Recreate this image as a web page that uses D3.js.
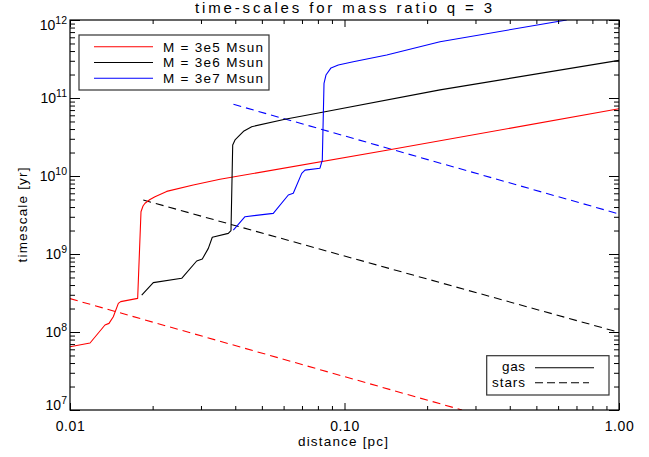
<!DOCTYPE html>
<html>
<head>
<meta charset="utf-8">
<script src="https://cdn.jsdelivr.net/npm/d3@7"></script>
<style>
  body { margin: 0; background: #fff; }
  text { font-family: "Liberation Sans", Arial, sans-serif; fill: #000; }
</style>
</head>
<body>
<div id="chart"></div>
<script>
// values: distance [pc] and timescale [yr]
var gasDist3e5 = [0.0100, 0.01183, 0.01341, 0.01387, 0.01438, 0.01500, 0.01530, 0.01764, 0.01814, 0.01845, 0.01876, 0.01956, 0.02040, 0.02250, 0.02812, 0.03519, 0.1443, 1.0];
var gasTime3e5 = [6.48e7, 7.23e7, 1.23e8, 1.29e8, 1.57e8, 2.33e8, 2.45e8, 2.70e8, 3.48e9, 4.12e9, 4.47e9, 5.0e9, 5.43e9, 6.35e9, 7.67e9, 9.07e9, 2.15e10, 7.29e10];

var gasDist3e6 = [0.01825, 0.02011, 0.02552, 0.02894, 0.03034, 0.03191, 0.03299, 0.03773, 0.03859, 0.03915, 0.03992, 0.04102, 0.04304, 0.04591, 0.06070, 0.08492, 0.2228, 1.0];
var gasTime3e6 = [2.98e8, 4.29e8, 4.88e8, 8.13e8, 8.63e8, 1.18e9, 1.64e9, 1.84e9, 2.0e9, 2.50e10, 2.90e10, 3.19e10, 3.78e10, 4.29e10, 5.33e10, 6.67e10, 1.27e11, 3.04e11];

var gasDist3e7 = [0.03935, 0.04341, 0.05502, 0.06242, 0.06507, 0.06985, 0.07180, 0.08140, 0.08301, 0.08421, 0.0856, 0.0893, 0.09493, 0.1076, 0.1425, 0.2228, 0.645];
var gasTime3e7 = [2.03e9, 3.01e9, 3.32e9, 5.71e9, 6.0e9, 1.08e10, 1.19e10, 1.26e10, 1.60e10, 1.54e11, 1.97e11, 2.43e11, 2.65e11, 2.92e11, 3.56e11, 5.27e11, 1.0e12];

var starDist3e5 = [0.01, 0.268];
var starTime3e5 = [2.68e8, 1.0e7];
var starDist3e6 = [0.01849, 1.0];
var starTime3e6 = [4.92e9, 9.9e7];
var starDist3e7 = [0.0394, 1.0];
var starTime3e7 = [8.3e10, 3.26e9];

var massLabels = ["M = 3e5 Msun", "M = 3e6 Msun", "M = 3e7 Msun"];
var massColors = ["#ff0000", "#000000", "#0000ff"];
var xMajor = [0.01, 0.1, 1];
var yMajor = [1e7, 1e8, 1e9, 1e10, 1e11, 1e12];

function zip(a, b) {
    return a.map(function (d, i) { return [d, b[i]]; });
}

var W = 649, H = 457;
var pLeft = 70, pRight = 619, pTop = 20, pBottom = 410;

var svg = d3.select("#chart").append("svg")
    .attr("width", W).attr("height", H);
svg.append("rect").attr("width", W).attr("height", H).attr("fill", "#fff");

var x = d3.scaleLog().domain([0.01, 1]).range([pLeft, pRight]);
var y = d3.scaleLog().domain([1e7, 1e12]).range([pBottom, pTop]);

// minor ticks 2..9 of every decade
var xMinor = [], yMinor = [];
[0.01, 0.1].forEach(function (d) { for (var k = 2; k < 10; k++) xMinor.push(d * k); });
[1e7, 1e8, 1e9, 1e10, 1e11].forEach(function (d) { for (var k = 2; k < 10; k++) yMinor.push(d * k); });

svg.append("clipPath").attr("id", "plotclip")
    .append("rect").attr("x", pLeft).attr("y", pTop)
    .attr("width", pRight - pLeft).attr("height", pBottom - pTop);

var line = d3.line()
    .x(function (d) { return x(d[0]); })
    .y(function (d) { return y(d[1]); });

var plot = svg.append("g").attr("clip-path", "url(#plotclip)");

var gasSeries = [zip(gasDist3e5, gasTime3e5), zip(gasDist3e6, gasTime3e6), zip(gasDist3e7, gasTime3e7)];
var starSeries = [zip(starDist3e5, starTime3e5), zip(starDist3e6, starTime3e6), zip(starDist3e7, starTime3e7)];

starSeries.forEach(function (s, i) {
    plot.append("path").datum(s)
        .attr("fill", "none")
        .attr("stroke", massColors[i])
        .attr("stroke-width", 1.1)
        .attr("stroke-dasharray", "8,5")
        .attr("d", line);
});
gasSeries.forEach(function (s, i) {
    plot.append("path").datum(s)
        .attr("fill", "none")
        .attr("stroke", massColors[i])
        .attr("stroke-width", 1.1)
        .attr("stroke-linejoin", "round")
        .attr("d", line);
});

// axes (ticks point inwards)
function styleAxis(g) {
    g.select(".domain").remove();
    g.selectAll("line").attr("stroke", "#000");
}
svg.append("g").attr("transform", "translate(0," + pBottom + ")")
    .call(d3.axisBottom(x).tickValues(xMajor).tickSizeInner(-7).tickSizeOuter(0)
        .tickPadding(11).tickFormat(d3.format(".2f")))
    .call(styleAxis)
    .selectAll("text").attr("font-size", 14).attr("letter-spacing", 0.6)
    .attr("font-family", "Liberation Sans, Arial, sans-serif");
svg.append("g").attr("transform", "translate(0," + pBottom + ")")
    .call(d3.axisBottom(x).tickValues(xMinor).tickSizeInner(-4).tickSizeOuter(0).tickFormat(""))
    .call(styleAxis);
svg.append("g").attr("transform", "translate(0," + pTop + ")")
    .call(d3.axisTop(x).tickValues(xMajor).tickSizeInner(-7).tickSizeOuter(0).tickFormat(""))
    .call(styleAxis);
svg.append("g").attr("transform", "translate(0," + pTop + ")")
    .call(d3.axisTop(x).tickValues(xMinor).tickSizeInner(-4).tickSizeOuter(0).tickFormat(""))
    .call(styleAxis);
svg.append("g").attr("transform", "translate(" + pLeft + ",0)")
    .call(d3.axisLeft(y).tickValues(yMajor).tickSizeInner(-10).tickSizeOuter(0).tickFormat(""))
    .call(styleAxis);
svg.append("g").attr("transform", "translate(" + pLeft + ",0)")
    .call(d3.axisLeft(y).tickValues(yMinor).tickSizeInner(-5).tickSizeOuter(0).tickFormat(""))
    .call(styleAxis);
svg.append("g").attr("transform", "translate(" + pRight + ",0)")
    .call(d3.axisRight(y).tickValues(yMajor).tickSizeInner(-10).tickSizeOuter(0).tickFormat(""))
    .call(styleAxis);
svg.append("g").attr("transform", "translate(" + pRight + ",0)")
    .call(d3.axisRight(y).tickValues(yMinor).tickSizeInner(-5).tickSizeOuter(0).tickFormat(""))
    .call(styleAxis);

// y labels as 10^n, end labels nudged inside like the original
yMajor.forEach(function (v, i) {
    var shift = (i === 0) ? -5 : (i === yMajor.length - 1 ? 5 : 0);
    var t = svg.append("text")
        .attr("x", 67)
        .attr("y", y(v) + shift + 5)
        .attr("text-anchor", "end")
        .attr("font-size", 14);
    t.append("tspan").text("10");
    t.append("tspan").attr("dy", -6.5).attr("font-size", 10.5).text(Math.round(Math.log10(v)));
});

svg.append("rect")
    .attr("x", pLeft).attr("y", pTop)
    .attr("width", pRight - pLeft).attr("height", pBottom - pTop)
    .attr("fill", "none").attr("stroke", "#000").attr("stroke-width", 1.2);

// titles
svg.append("text")
    .attr("x", 343.5).attr("y", 13)
    .attr("text-anchor", "middle").attr("font-size", 15)
    .attr("textLength", 297).attr("lengthAdjust", "spacing")
    .text("time-scales for mass ratio q = 3");
svg.append("text")
    .attr("x", 343).attr("y", 446)
    .attr("text-anchor", "middle").attr("font-size", 13.5)
    .attr("textLength", 90).attr("lengthAdjust", "spacing")
    .text("distance [pc]");
svg.append("text")
    .attr("transform", "translate(27,215) rotate(-90)")
    .attr("text-anchor", "middle").attr("font-size", 13.5)
    .attr("textLength", 95).attr("lengthAdjust", "spacing")
    .text("timescale [yr]");

// mass legend
var leg = svg.append("g");
leg.append("rect").attr("x", 79).attr("y", 35).attr("width", 190).attr("height", 55)
    .attr("fill", "#fff").attr("stroke", "#333").attr("stroke-width", 1.2);
massLabels.forEach(function (lab, i) {
    var ly = 46.7 + i * 15.8;
    leg.append("line").attr("x1", 94).attr("x2", 153).attr("y1", ly).attr("y2", ly)
        .attr("stroke", massColors[i]).attr("stroke-width", 1.1);
    leg.append("text").attr("x", 163).attr("y", ly + 4.8)
        .attr("font-size", 13.5)
        .attr("textLength", 100).attr("lengthAdjust", "spacing")
        .text(lab);
});

// line style legend
var leg2 = svg.append("g");
leg2.append("rect").attr("x", 486.7).attr("y", 355.7).attr("width", 122.3).attr("height", 39.3)
    .attr("fill", "#fff").attr("stroke", "#333").attr("stroke-width", 1.2);
leg2.append("text").attr("x", 525).attr("y", 371).attr("text-anchor", "end")
    .attr("font-size", 13.5).attr("textLength", 23).attr("lengthAdjust", "spacing").text("gas");
leg2.append("line").attr("x1", 535).attr("x2", 594).attr("y1", 367.7).attr("y2", 367.7)
    .attr("stroke", "#000").attr("stroke-width", 1.1);
leg2.append("text").attr("x", 525).attr("y", 387.3).attr("text-anchor", "end")
    .attr("font-size", 13.5).attr("textLength", 33).attr("lengthAdjust", "spacing").text("stars");
leg2.append("line").attr("x1", 535).attr("x2", 589).attr("y1", 382.7).attr("y2", 382.7)
    .attr("stroke", "#000").attr("stroke-width", 1.1).attr("stroke-dasharray", "8,4");
</script>
</body>
</html>
